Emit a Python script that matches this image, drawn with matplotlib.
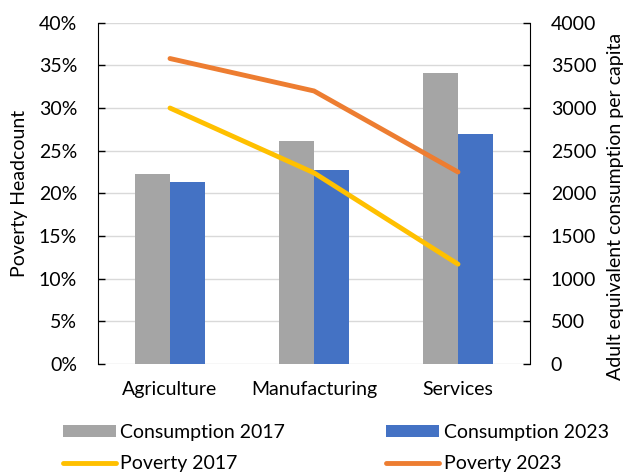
#!/usr/bin/env python

import numpy as np
import matplotlib
matplotlib.use('Agg')
import matplotlib.pyplot as plt
from matplotlib.ticker import FuncFormatter

plt.rcParams['font.family'] = ['Lato', 'DejaVu Sans']

## Data
sectors = ['Agriculture', 'Manufacturing', 'Services']
cons_2017 = [2227, 2610, 3407]
cons_2023 = [2133, 2274, 2696]
pov_2017 = [30.0, 22.4, 11.7]
pov_2023 = [35.8, 32.0, 22.5]

FS = 14

###########################

fig = plt.figure(figsize=(6.27, 4.72), dpi=100)
ax = fig.add_axes([98/627, 1 - 364/472, 432/627, (364 - 22.7)/472])
ax2 = ax.twinx()

x = np.arange(len(sectors))
w = 0.24

## bars go on the right axis, lines on the left one
b1 = ax2.bar(x - w/2, cons_2017, w, color='#a5a5a5', label='Consumption 2017')
b2 = ax2.bar(x + w/2, cons_2023, w, color='#4472c4', label='Consumption 2023')
ax2.set_ylim(0, 4000)
ax2.set_yticks(np.arange(0, 4001, 500))

l1, = ax.plot(x, pov_2017, color='#ffc000', lw=3.5, solid_capstyle='round',
              label='Poverty 2017')
l2, = ax.plot(x, pov_2023, color='#ed7d31', lw=3.5, solid_capstyle='round',
              label='Poverty 2023')
ax.set_ylim(0, 40)
ax.set_yticks(np.arange(0, 41, 5))
ax.yaxis.set_major_formatter(FuncFormatter(lambda v, p: '%d%%' % v))

## lines on top of bars
ax.set_zorder(ax2.get_zorder() + 1)
ax.patch.set_visible(False)

ax.set_xlim(-0.5, 2.5)
ax.set_xticks(x)
ax.set_xticklabels(sectors)

## gridlines belong to the bar axis so they sit behind everything
ax2.grid(axis='y', color='#d9d9d9', lw=1)
ax2.set_axisbelow(True)

for a in (ax, ax2):
    a.spines['top'].set_visible(False)
    a.spines['bottom'].set_visible(False)
    a.tick_params(axis='y', direction='in', length=5, width=1,
                  labelsize=FS, pad=15)
    a.tick_params(axis='x', length=0, labelsize=FS, pad=12)
ax.spines['right'].set_visible(False)
ax2.spines['left'].set_visible(False)

## axis titles
fig.text(20/627, 1 - 193/472, 'Poverty Headcount', rotation=90,
         ha='center', va='center', fontsize=FS)
fig.text(615/627, 1 - 206/472, 'Adult equivalent consumption per capita',
         rotation=90, ha='center', va='center', fontsize=FS)

## legend, filled column by column -> order so rows read 2017 / 2023
fig.legend([b1, l1, b2, l2],
           [b1.get_label(), l1.get_label(), b2.get_label(), l2.get_label()],
           ncol=2, loc='upper left', bbox_to_anchor=(63/627, 1 - 424/472),
           frameon=False, fontsize=FS, columnspacing=5.2, borderpad=0,
           borderaxespad=0, handlelength=2.7, handleheight=0.57,
           handletextpad=0.25, labelspacing=0.72)

fig.savefig('out.png', dpi=100)
